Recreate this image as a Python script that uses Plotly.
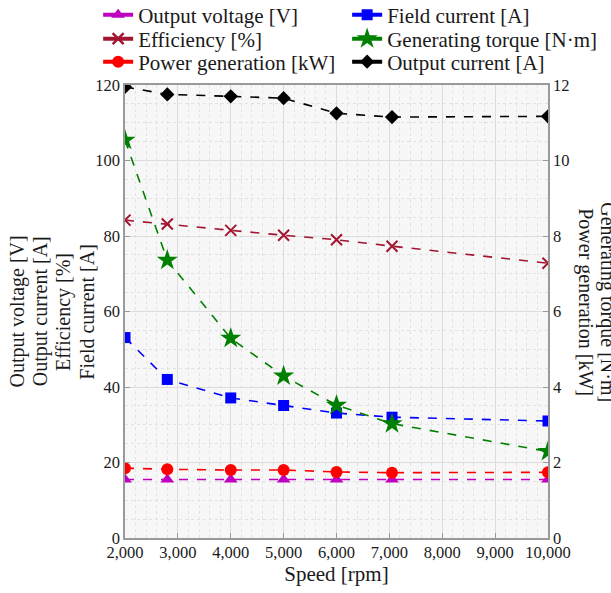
import plotly.graph_objects as go

speed = [2000, 2800, 4000, 5000, 6000, 7050, 10000]
output_voltage = [15.5, 15.5, 15.5, 15.5, 15.5, 15.5, 15.5]
field_current = [53.1, 42.0, 37.1, 35.1, 33.1, 32.0, 31.0]
efficiency = [84.2, 83.2, 81.5, 80.2, 79.0, 77.3, 72.8]
generating_torque = [10.54, 7.36, 5.29, 4.29, 3.52, 3.03, 2.29]
power_generation = [1.85, 1.82, 1.80, 1.80, 1.75, 1.73, 1.74]
output_current = [119.5, 117.5, 117.0, 116.5, 112.5, 111.5, 111.7]

x_ticks = [2000, 3000, 4000, 5000, 6000, 7000, 8000, 9000, 10000]
y_left_ticks = [0, 20, 40, 60, 80, 100, 120]
y_right_ticks = [0, 2, 4, 6, 8, 10, 12]

left_title_lines = ["Output voltage [V]", "Output current [A]", "Efficiency [%]", "Field current [A]"]
right_title_lines = ["Power generation [kW]", "Generating torque [N·m]"]

FONT = "'Liberation Serif', 'Times New Roman', serif"
TXT = "#1a1a1a"

# name, values, colour, symbol, size, y-axis, legend row
series = [
    ("Output voltage [V]", output_voltage, "#C000C0", "triangle-up", 12, "y", "legend"),
    ("Field current [A]", field_current, "#0000FF", "square", 11, "y", "legend"),
    ("Efficiency [%]", efficiency, "#A2142F", "x-thin", 11, "y", "legend2"),
    ("Generating torque [N·m]", generating_torque, "#008000", "star", 16, "y2", "legend2"),
    ("Power generation [kW]", power_generation, "#FF0000", "circle", 12, "y2", "legend3"),
    ("Output current [A]", output_current, "#000000", "diamond", 11, "y", "legend3"),
]

fig = go.Figure()
for name, vals, color, sym, size, ax, lg in series:
    mk = dict(symbol=sym, size=size, color=color)
    if sym == "x-thin":
        mk["line"] = dict(color=color, width=2)
    fig.add_trace(go.Scatter(
        x=speed, y=vals, yaxis=ax, mode="lines+markers", name=name,
        line=dict(color=color, width=1.6, dash="dash"),
        marker=mk, showlegend=False))
for name, vals, color, sym, size, ax, lg in series:
    mk = dict(symbol=sym, size=size, color=color)
    if sym == "x-thin":
        mk["line"] = dict(color=color, width=2.5)
    fig.add_trace(go.Scatter(
        x=[None], y=[None], yaxis=ax, mode="lines+markers", name=name,
        line=dict(color=color, width=4), marker=mk, showlegend=True, legend=lg))

grid_major = "#dcdcdc"
grid_minor = "#e2e2e2"
axis_line = "#9a9a9a"


def legend_row(yc):
    return dict(
        orientation="h", x=-0.0635, y=(538 - yc) / 453, xanchor="left", yanchor="middle",
        entrywidth=204, font=dict(family=FONT, size=21, color=TXT),
        itemwidth=30, bgcolor="rgba(0,0,0,0)",
    )


fig.update_layout(
    width=611, height=593,
    margin=dict(l=125, r=63, t=85, b=55, autoexpand=False),
    paper_bgcolor="white",
    plot_bgcolor="#f7f7f7",
    font=dict(family=FONT, size=16, color=TXT),
    legend=legend_row(15),
    legend2=legend_row(39),
    legend3=legend_row(62),
    xaxis=dict(
        range=[2000, 10000], tickvals=x_ticks, tickformat=",d",
        showline=True, linecolor=axis_line, linewidth=1.5, mirror=True,
        ticks="inside", ticklen=5, tickcolor=axis_line,
        showgrid=True, gridcolor=grid_major, gridwidth=1,
        minor=dict(dtick=200, showgrid=True, gridcolor=grid_minor, griddash="dot"),
        zeroline=False, ticklabelstandoff=-2,
        title=dict(text="Speed [rpm]", font=dict(family=FONT, size=21, color=TXT), standoff=4),
        tickfont=dict(family=FONT, size=16.5, color=TXT),
    ),
    yaxis=dict(
        range=[0, 120], tickvals=y_left_ticks,
        showline=True, linecolor=axis_line, linewidth=1.5,
        ticks="inside", ticklen=5, tickcolor=axis_line,
        showgrid=True, gridcolor=grid_major,
        minor=dict(dtick=5, showgrid=True, gridcolor=grid_minor, griddash="dot"),
        zeroline=False, tickfont=dict(family=FONT, size=16.5, color=TXT),
    ),
    yaxis2=dict(
        range=[0, 12], tickvals=y_right_ticks, overlaying="y", side="right",
        showline=True, linecolor=axis_line, linewidth=1.5,
        ticks="inside", ticklen=5, tickcolor=axis_line,
        showgrid=False, zeroline=False, tickfont=dict(family=FONT, size=16.5, color=TXT),
    ),
)

for i, line in enumerate(left_title_lines):
    fig.add_annotation(
        text=line, xref="paper", yref="paper", x=-0.253 + i * 0.0537, y=0.5,
        xanchor="center", yanchor="middle", textangle=-90, showarrow=False,
        font=dict(family=FONT, size=20, color=TXT),
    )
for i, line in enumerate(right_title_lines):
    fig.add_annotation(
        text=line, xref="paper", yref="paper", x=1.088 + i * 0.052, y=0.52,
        xanchor="center", yanchor="middle", textangle=90, showarrow=False,
        font=dict(family=FONT, size=20, color=TXT),
    )

fig.write_html("out.html", config={"displayModeBar": False},
               post_script="document.body.style.margin='0px';")
